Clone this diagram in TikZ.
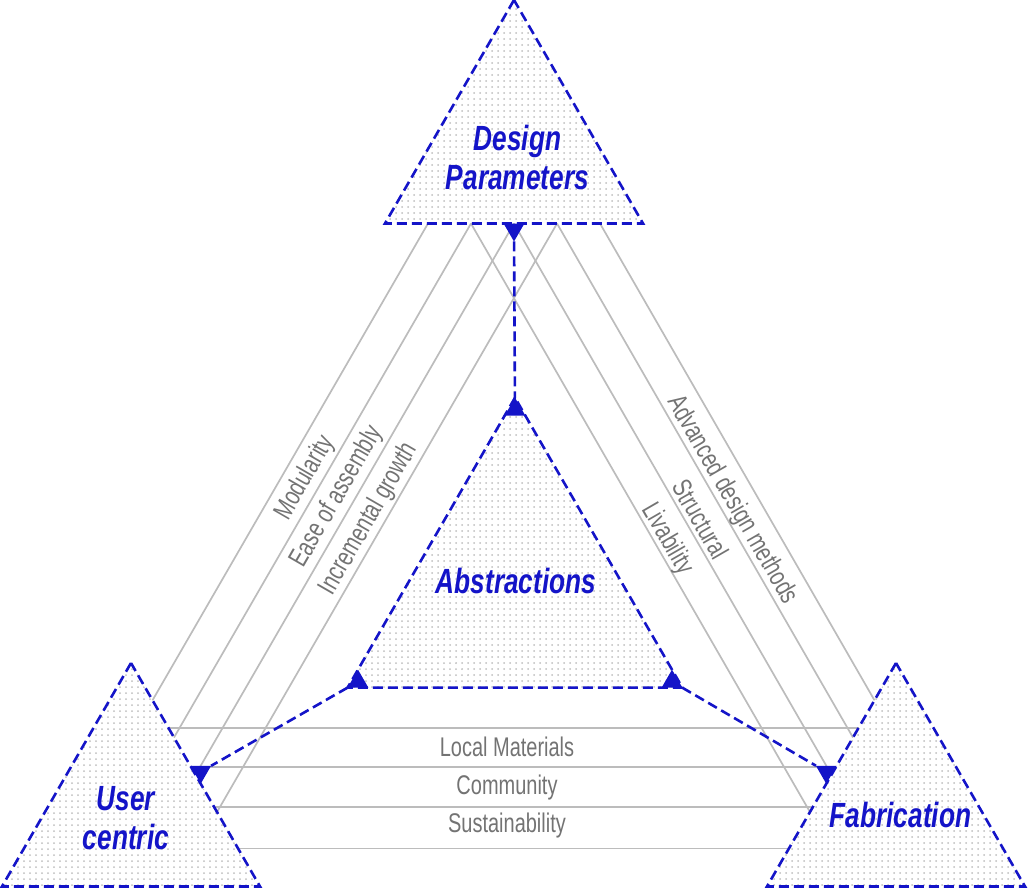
\documentclass[tikz,border=0pt]{standalone}
\usepackage{fontspec}
\setmainfont{Liberation Sans}
\newfontfamily\headfont[FakeStretch=0.75]{Liberation Sans}
\newfontfamily\tagfont[FakeStretch=0.74]{Liberation Sans}
\usetikzlibrary{shapes.geometric, patterns, calc, backgrounds}
\definecolor{ink}{RGB}{20,20,200}
\definecolor{threadgray}{RGB}{188,188,188}
\definecolor{tagtext}{RGB}{115,115,115}
\definecolor{dotgray}{RGB}{190,190,190}
\tikzstyle{pillar} = [regular polygon, regular polygon sides=3, minimum size=149pt, inner sep=0pt, outer sep=0pt, draw=ink, line width=1.3pt, dash pattern=on 5pt off 2.5pt, pattern=dots, pattern color=dotgray]
\tikzstyle{hub} = [pillar, minimum size=193.3pt]
\tikzstyle{notch} = [regular polygon, regular polygon sides=3, minimum size=12pt, inner sep=0pt, outer sep=0pt, fill=ink]
\tikzstyle{notchdown} = [notch, shape border rotate=180]
\tikzstyle{title} = [font=\headfont\bfseries\itshape\fontsize{17.5}{19.5}\selectfont, text=ink, align=center, inner sep=0pt]
\tikzstyle{facet} = [font=\tagfont\fontsize{13.5}{15}\selectfont, text=tagtext, inner sep=0pt]
\tikzstyle{dashlink} = [draw=ink, line width=1.3pt, dash pattern=on 5pt off 2.5pt]
\tikzstyle{strand} = [draw=threadgray, line width=0.85pt]

\begin{document}
\begin{tikzpicture}[x=0.5pt, y=-0.5pt]
	\useasboundingbox (0,0) rectangle (1028,891);
	%the four triangles
	\node (dp) [pillar] at (514,149) {};
	\node (uc) [pillar] at (131,812) {};
	\node (fb) [pillar] at (896,812) {};
	\node (ab) [hub] at (515,591) {};
	
	\node (dpt) [title] at ($(dp)+(3.5,8)$) {Design\\Parameters};
	\node (uct) [title] at ($(uc)+(-5,6)$) {User\\centric};
	\node (fbt) [title] at ($(fb)+(4.5,2.5)$) {Fabrication};
	\node (abt) [title] at ($(ab)+(1,-10)$) {Abstractions};
	
	%small blue markers
	\node (ndp) [notchdown] at ($(dp.side 2)+(0,6)$) {};
	\node (nab) [notch] at ($(ab.corner 1)+(0,12)$) {};
	\node (nabl) [notch] at ($(ab.corner 2)+(10.4,-6)$) {};
	\node (nabr) [notch] at ($(ab.corner 3)+(-10.4,-6)$) {};
	\node (nuc) [notchdown] at ($(uc.side 3)+(5.2,-3)$) {};
	\node (nfb) [notchdown] at ($(fb.side 1)+(-5.2,-3)$) {};
	
	%dashed links
	\draw [dashlink] (ndp) -- (nab);
	\draw [dashlink] (nabl) -- (nuc);
	\draw [dashlink] (nabr) -- (nfb);
	
	%grey threads
	\begin{scope}[on background layer]
		\draw [strand] ($(dp.corner 2)!0.1667!(dp.corner 3)$) -- ($(uc.corner 1)!0.1667!(uc.corner 3)$);
		\draw [strand] ($(dp.corner 2)!0.3333!(dp.corner 3)$) -- ($(uc.corner 1)!0.3333!(uc.corner 3)$);
		\draw [strand] ($(dp.corner 2)!0.5!(dp.corner 3)$) -- ($(uc.corner 1)!0.5!(uc.corner 3)$);
		\draw [strand] ($(dp.corner 2)!0.6667!(dp.corner 3)$) -- ($(uc.corner 1)!0.6667!(uc.corner 3)$);
		
		\draw [strand] ($(dp.corner 2)!0.3333!(dp.corner 3)$) -- ($(fb.corner 1)!0.6667!(fb.corner 2)$);
		\draw [strand] ($(dp.corner 2)!0.5!(dp.corner 3)$) -- ($(fb.corner 1)!0.5!(fb.corner 2)$);
		\draw [strand] ($(dp.corner 2)!0.6667!(dp.corner 3)$) -- ($(fb.corner 1)!0.3333!(fb.corner 2)$);
		\draw [strand] ($(dp.corner 2)!0.8333!(dp.corner 3)$) -- ($(fb.corner 1)!0.1667!(fb.corner 2)$);
		
		\draw [strand] ($(uc.corner 1)!0.29!(uc.corner 3)$) -- ($(fb.corner 1)!0.29!(fb.corner 2)$);
		\draw [strand] ($(uc.corner 1)!0.465!(uc.corner 3)$) -- ($(fb.corner 1)!0.465!(fb.corner 2)$);
		\draw [strand] ($(uc.corner 1)!0.645!(uc.corner 3)$) -- ($(fb.corner 1)!0.645!(fb.corner 2)$);
		\draw [strand] ($(uc.corner 1)!0.83!(uc.corner 3)$) -- ($(fb.corner 1)!0.83!(fb.corner 2)$);
	\end{scope}
	
	%labels on the threads
	\node (mod) [facet, rotate=60] at (305,478) {Modularity};
	\node (ease) [facet, rotate=60] at (337,497) {Ease of assembly};
	\node (incr) [facet, rotate=60] at (369,519) {Incremental growth};
	\node (adv) [facet, rotate=-60] at (732,500) {Advanced design methods};
	\node (struc) [facet, rotate=-60] at (701,519) {Structural};
	\node (liv) [facet, rotate=-60] at (667,539) {Livability};
	\node (loc) [facet] at (507,747) {Local Materials};
	\node (comm) [facet] at (507,788) {Community};
	\node (sust) [facet] at (507,826) {Sustainability};
\end{tikzpicture}
\end{document}
